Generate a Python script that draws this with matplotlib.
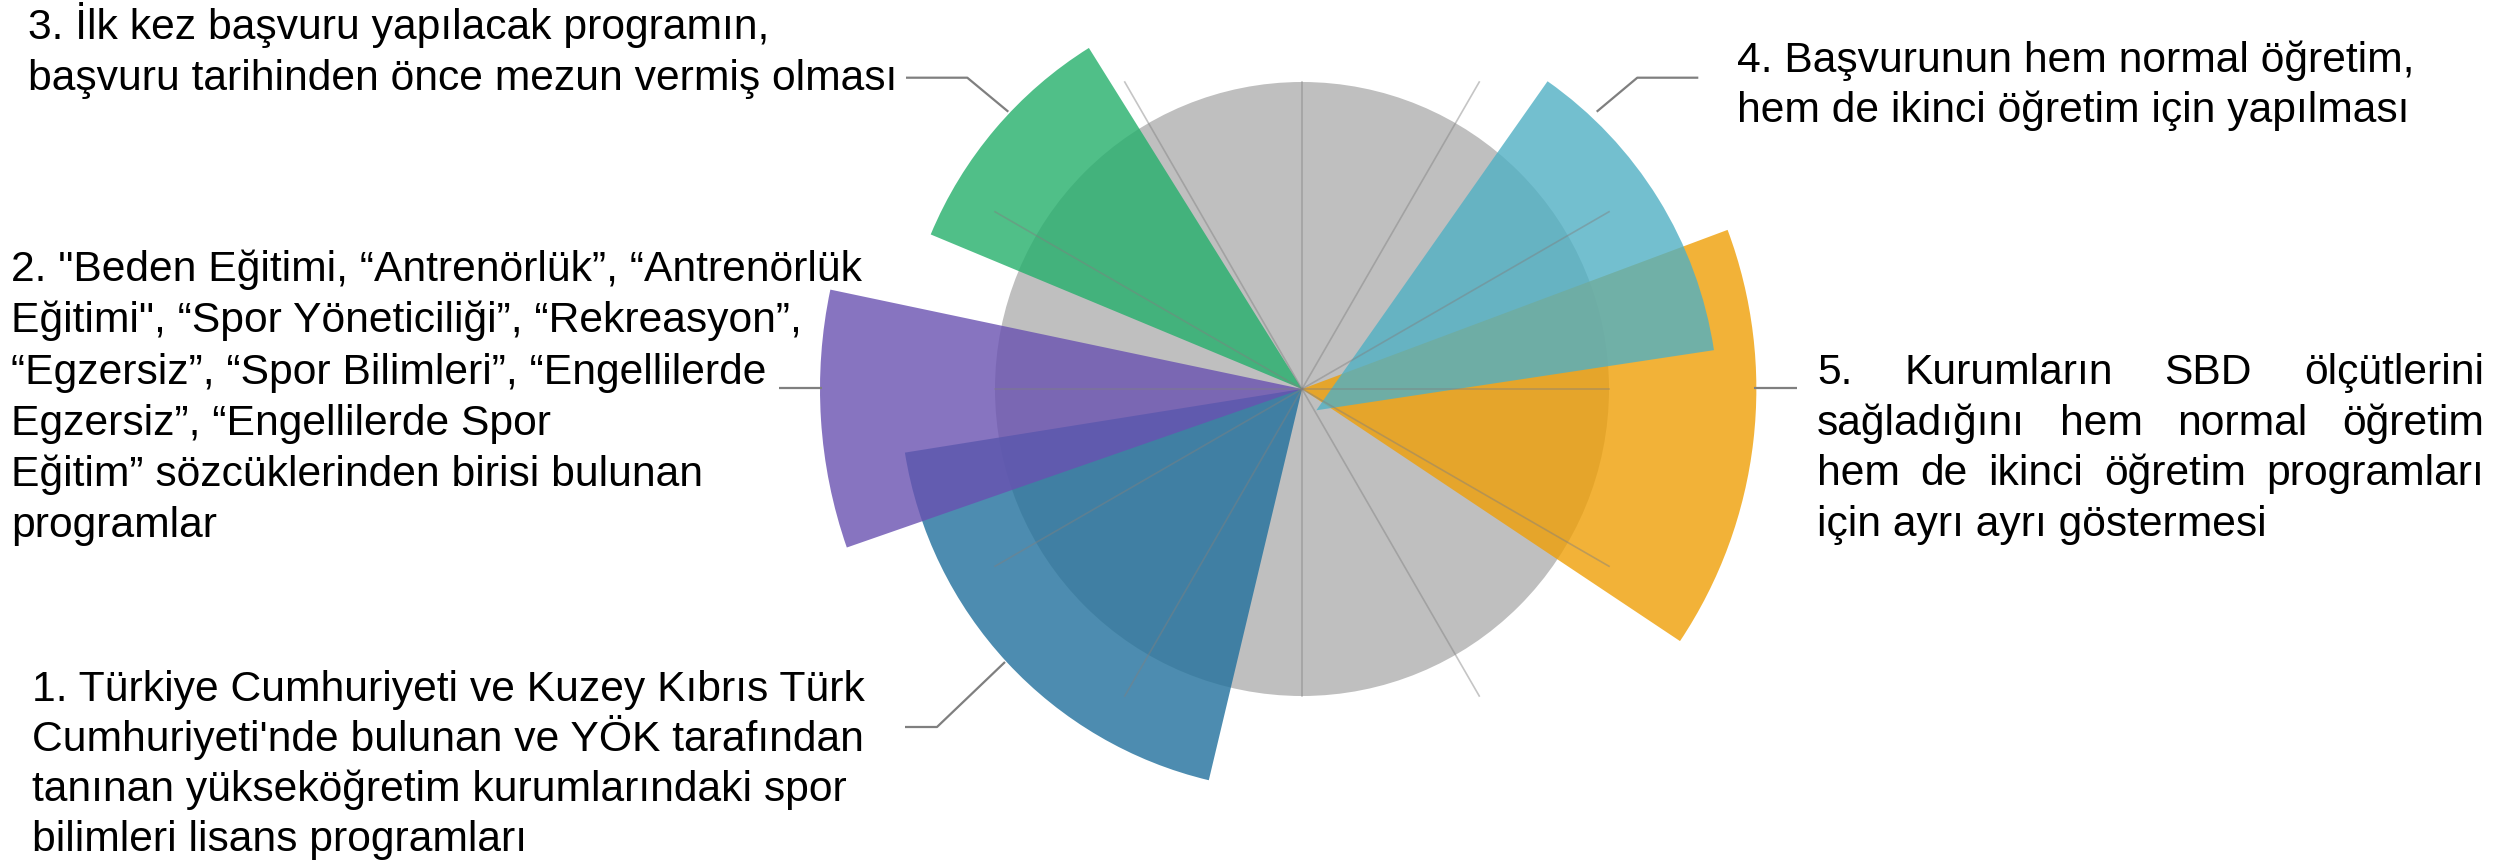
import matplotlib
matplotlib.use("Agg")
import matplotlib.pyplot as plt
from matplotlib.patches import Wedge, Circle
import numpy as np

plt.rcParams['font.family'] = ['Liberation Sans', 'DejaVu Sans']

# --- data (radius relative to grey circle = 100, angles in degrees) ---
criteria = ["1", "2", "3", "4", "5"]
radius = [131, 157, 131, 131, 148]
theta_start = [189.1, 168.1, 122.0, 8.6, -33.7]
theta_end = [256.6, 199.2, 157.4, 54.9, 20.5]
base_radius = 100

colors = ["#20709C", "#6951B1", "#24AF6B", "#50B0C4", "#EF9F06"]
grey = "#BFBFBF"

label_lines = {
    "1": ["1. Türkiye Cumhuriyeti ve Kuzey Kıbrıs Türk",
          "Cumhuriyeti'nde bulunan ve YÖK tarafından",
          "tanınan yükseköğretim kurumlarındaki spor",
          "bilimleri lisans programları"],
    "2": ['2. "Beden Eğitimi, “Antrenörlük”, “Antrenörlük',
          'Eğitimi", “Spor Yöneticiliği”, “Rekreasyon”,',
          '“Egzersiz”, “Spor Bilimleri”, “Engellilerde',
          'Egzersiz”, “Engellilerde Spor',
          'Eğitim” sözcüklerinden birisi bulunan',
          'programlar'],
    "3": ["3. İlk kez başvuru yapılacak programın,",
          "başvuru tarihinden önce mezun vermiş olması"],
    "4": ["4. Başvurunun hem normal öğretim,",
          "hem de ikinci öğretim için yapılması"],
    "5": ["5. Kurumların SBD ölçütlerini",
          "sağladığını hem normal öğretim",
          "hem de ikinci öğretim programları",
          "için ayrı ayrı göstermesi"],
}

# --- layout (pixels) ---
W, H = 2506, 865
CX, CY = 1302, 389
SCALE = 3.07          # pixels per data unit
FS = 30.7


def px(x, y):
    return x - CX, CY - y


fig = plt.figure(figsize=(W / 100, H / 100), dpi=100)
ax = fig.add_axes([0, 0, 1, 1])
ax.set_xlim(-CX, W - CX)
ax.set_ylim(CY - H, CY)
ax.axis("off")

# grey background circle
ax.add_patch(Circle((0, 0), base_radius * SCALE, color=grey, lw=0, zorder=1))

# wedges (the 4th one is drawn slightly off-centre in the original)
offsets = {"4": (14.3, -21.3)}
zorders = {"1": 2, "2": 3, "3": 3, "4": 4, "5": 3}
for c, r, t0, t1, col in zip(criteria, radius, theta_start, theta_end, colors):
    ax.add_patch(Wedge(offsets.get(c, (0, 0)), r * SCALE, t0, t1,
                       facecolor=col, alpha=0.8, lw=0, zorder=zorders[c]))

# radial grid, clipped to the square around the grey circle
R = base_radius * SCALE
for a in np.arange(0, 360, 30):
    ang = np.radians(a)
    c, s = np.cos(ang), np.sin(ang)
    if a % 90 == 0:
        L = R
    else:
        L = min(R / abs(c), R / abs(s))
    ax.plot([0, L * c], [0, L * s], color="#7f7f7f", alpha=0.45, lw=1.2, zorder=6)

# leader lines
leaders = [
    [(906, 77.7), (967.3, 77.7), (1008.3, 111.7)],
    [(1698.3, 77.7), (1637.3, 77.7), (1596.7, 111.7)],
    [(779, 388.3), (822, 388.3)],
    [(1754, 388.3), (1797, 388.3)],
    [(905, 727), (937, 727), (1005, 662)],
]
for pts in leaders:
    xy = np.array([px(*p) for p in pts])
    ax.plot(xy[:, 0], xy[:, 1], color="#7f7f7f", lw=1.6, zorder=7,
            solid_capstyle="butt")

# labels: (x, first baseline, line step, justify-right-edge)
label_pos = {
    "1": (32, 701, 50.0, None),
    "2": (11, 281, 51.3, None),
    "3": (28, 39.4, 50.6, None),
    "4": (1737, 71.7, 50.0, None),
    "5": (1817, 384, 50.7, 2484),
}

renderer = fig.canvas.get_renderer()
for c in criteria:
    x0, y0, step, right = label_pos[c]
    lines = label_lines[c]
    for i, line in enumerate(lines):
        y = y0 + i * step
        if right is None or i == len(lines) - 1:
            ax.text(*px(x0, y), line, fontsize=FS, va="baseline", ha="left")
            continue
        words = line.split(" ")
        objs = [ax.text(0, 0, w, fontsize=FS, va="baseline", ha="left")
                for w in words]
        widths = [o.get_window_extent(renderer).width for o in objs]
        gap = (right - x0 - sum(widths)) / (len(words) - 1)
        xx = x0
        for o, w in zip(objs, widths):
            o.set_position(px(xx, y))
            xx += w + gap

fig.savefig("out.png", dpi=100)
